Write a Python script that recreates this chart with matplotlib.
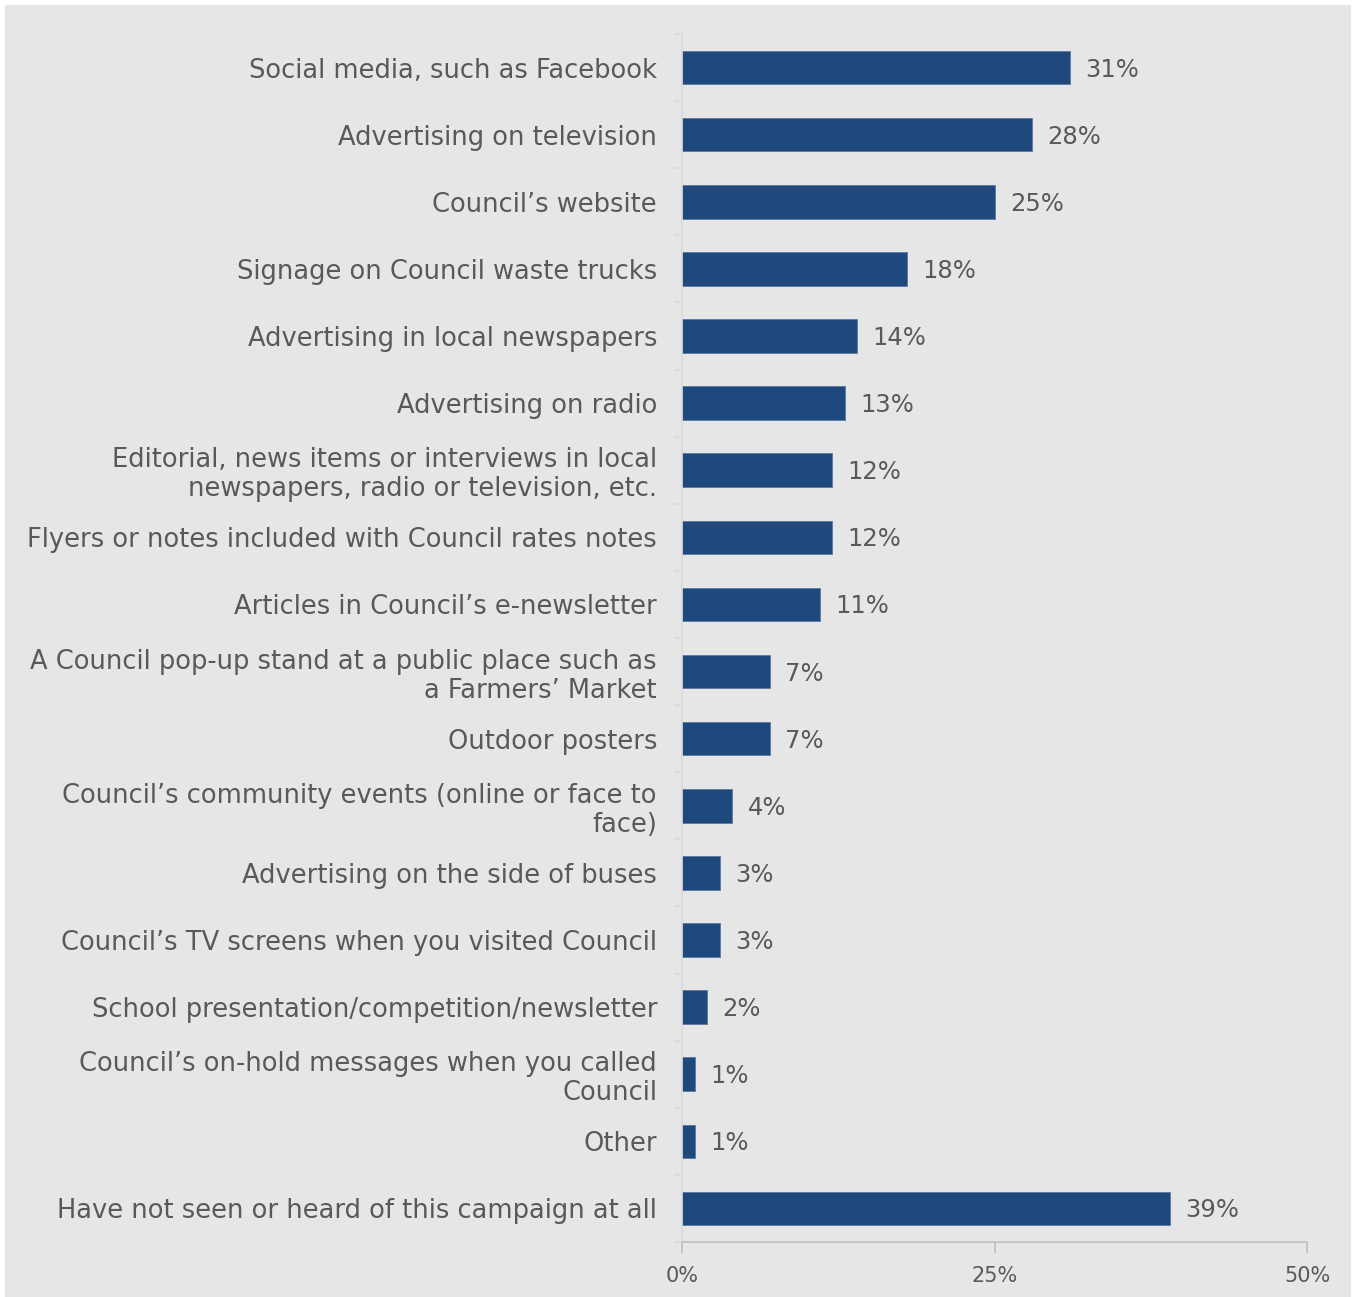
import matplotlib.pyplot as plt
from matplotlib.patches import Rectangle
from matplotlib.ticker import FixedLocator

channels = [
    "Social media, such as Facebook",
    "Advertising on television",
    "Council\u2019s website",
    "Signage on Council waste trucks",
    "Advertising in local newspapers",
    "Advertising on radio",
    "Editorial, news items or interviews in local\nnewspapers, radio or television, etc.",
    "Flyers or notes included with Council rates notes",
    "Articles in Council\u2019s e-newsletter",
    "A Council pop-up stand at a public place such as\na Farmers\u2019 Market",
    "Outdoor posters",
    "Council\u2019s community events (online or face to\nface)",
    "Advertising on the side of buses",
    "Council\u2019s TV screens when you visited Council",
    "School presentation/competition/newsletter",
    "Council\u2019s on-hold messages when you called\nCouncil",
    "Other",
    "Have not seen or heard of this campaign at all",
]
share = [31, 28, 25, 18, 14, 13, 12, 12, 11, 7, 7, 4, 3, 3, 2, 1, 1, 39]
ticks = [0, 25, 50]

bar_col = "#1f497d"
txt_col = "#595959"
bg = "#e6e6e6"

plt.rcParams["font.family"] = ["DejaVu Sans"]

fig = plt.figure(figsize=(13.56, 12.97), dpi=100, facecolor="white")
fig.patches.append(Rectangle((5 / 1356, 0), 1 - 10 / 1356, 1 - 5 / 1297,
                             transform=fig.transFigure, facecolor=bg,
                             edgecolor="none", zorder=-10))

ax = fig.add_axes([682 / 1356, 55 / 1297, 625 / 1356, 1208 / 1297])
ax.set_facecolor("none")

y = list(range(len(channels)))
ax.barh(y, share, height=0.5, color=bar_col, edgecolor="#5a7aa3", linewidth=0.6)
for yi, v in zip(y, share):
    ax.text(v + 1.25, yi + 0.03, f"{v}%", va="center", ha="left",
            fontsize=17.5, color=txt_col)

ax.set_xlim(0, 50)
ax.set_ylim(len(channels) - 0.5, -0.5)

ax.set_yticks(y)
ax.set_yticklabels(channels, fontsize=18.5, color=txt_col, linespacing=1.15)
ax.tick_params(axis="y", length=0, pad=18)
ax.yaxis.set_minor_locator(FixedLocator([i - 0.5 for i in range(len(channels) + 1)]))
ax.tick_params(axis="y", which="minor", length=6, width=1.2, color="#d9d9d9")

ax.set_xticks(ticks)
ax.set_xticklabels([f"{t}%" for t in ticks], fontsize=15, color=txt_col)
ax.tick_params(axis="x", length=8, width=1.2, color="#bfbfbf", pad=9)

for s in ["top", "right"]:
    ax.spines[s].set_visible(False)
ax.spines["left"].set_color("#d9d9d9")
ax.spines["left"].set_linewidth(1.2)
ax.spines["bottom"].set_color("#bfbfbf")
ax.spines["bottom"].set_linewidth(1.2)

fig.savefig("out.png", dpi=100, facecolor=fig.get_facecolor())
